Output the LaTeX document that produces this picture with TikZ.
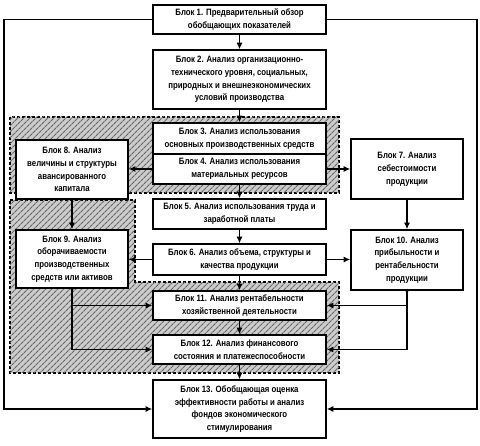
\documentclass[tikz,border=0pt]{standalone}
\usepackage{fontspec}
\setmainfont{Liberation Sans}[FakeStretch=0.85]
\usepackage{tikz}
\usetikzlibrary{arrows.meta,patterns.meta}

\begin{document}
\begin{tikzpicture}[x=1pt,y=-1pt,
    font=\fontsize{9.2}{12.8}\selectfont\bfseries,
    blok/.style={draw,line width=1.6pt,fill=white,align=center,inner sep=0pt},
    wide/.style={blok,minimum width=173pt},
    narrow/.style={blok,minimum width=112pt},
    arr/.style={line width=1.1pt,-{Latex[length=6.5pt,width=6pt]}},
    zone/.style={draw,dashed,line width=1.2pt,dash pattern=on 3pt off 2pt,
      fill=gray!40,postaction={pattern={Lines[angle=45,distance=4pt,line width=1.1pt]},
      pattern color=black!60}}]
  \useasboundingbox (0,0) rectangle (480,446);

  \path[zone] (10,117) rectangle (339,193);
  \path[zone] (10,200) -- (135,200) -- (135,282) -- (339,282)
    -- (339,373) -- (10,373) -- cycle;

  \node[wide,minimum height=29pt] (b1) at (239.5,19.5)
    {Блок 1. Предварительный обзор\\обобщающих показателей};
  \node[wide,minimum height=59pt] (b2) at (239.5,79.5)
    {Блок 2. Анализ организационно-\\технического уровня, социальных,\\природных и внешнеэкономических\\условий производства};
  \node[wide,minimum height=31pt] (b3) at (239.5,138.5)
    {Блок 3. Анализ использования\\основных производственных средств};
  \node[wide,minimum height=30pt] (b4) at (239.5,169)
    {Блок 4. Анализ использования\\материальных ресурсов};
  \node[wide,minimum height=30pt] (b5) at (239.5,214)
    {Блок 5. Анализ использования труда и\\заработной платы};
  \node[wide,minimum height=31pt] (b6) at (239.5,259.5)
    {Блок 6. Анализ объема, структуры и\\качества продукции};
  \node[wide,minimum height=29pt] (b11) at (239.5,305.5)
    {Блок 11. Анализ рентабельности\\хозяйственной деятельности};
  \node[wide,minimum height=29pt] (b12) at (239.5,349.5)
    {Блок 12. Анализ финансового\\состояния и платежеспособности};
  \node[wide,minimum height=58pt] (b13) at (239.5,409)
    {Блок 13. Обобщающая оценка\\эффективности работы и анализ\\фондов экономического\\стимулирования};

  \node[narrow,minimum height=59pt] (b8) at (72,169.5)
    {Блок 8. Анализ\\величины и структуры\\авансированного\\капитала};
  \node[narrow,minimum height=58pt] (b9) at (72,259)
    {Блок 9. Анализ\\оборачиваемости\\производственных\\средств или активов};
  \node[narrow,minimum height=60pt] (b7) at (407,169)
    {Блок 7. Анализ\\себестоимости\\продукции};
  \node[narrow,minimum height=60pt] (b10) at (407,260)
    {Блок 10. Анализ\\прибыльности и\\рентабельности\\продукции};

  \coordinate (lb) at (4,409);
  \coordinate (rb) at (477,409);

  \draw[arr] (b1) -- (b2);
  \draw[arr] (b2) -- (b3);
  \draw[arr] (b4) -- (b5);
  \draw[arr] (b5) -- (b6);
  \draw[arr] (b6) -- (b11);
  \draw[arr] (b11) -- (b12);
  \draw[arr] (b12) -- (b13);
  \draw[arr] (b8) -- (b9);
  \draw[arr] (b7) -- (b10);
  \draw[arr] (b4.west) -- (b4.west -| b8.east);
  \draw[arr] (b4.east) -- (b4.east -| b7.west);
  \draw[arr] (b6.west) -- (b6.west -| b9.east);
  \draw[arr] (b6.east) -- (b6.east -| b10.west);
  \draw[arr] (b9.south) |- (b11.west);
  \draw[arr] (b9.south) |- (b12.west);
  \draw[arr] (b10.south) |- (b11.east);
  \draw[arr] (b10.south) |- (b12.east);
  \fill (b9.south) circle (1.8pt);
  \fill (b10.south) circle (1.8pt);
  \draw[arr] (b1.west) -| (lb) -- (b13.west);
  \draw[arr] (b1.east) -| (rb) -- (b13.east);
\end{tikzpicture}
\end{document}
